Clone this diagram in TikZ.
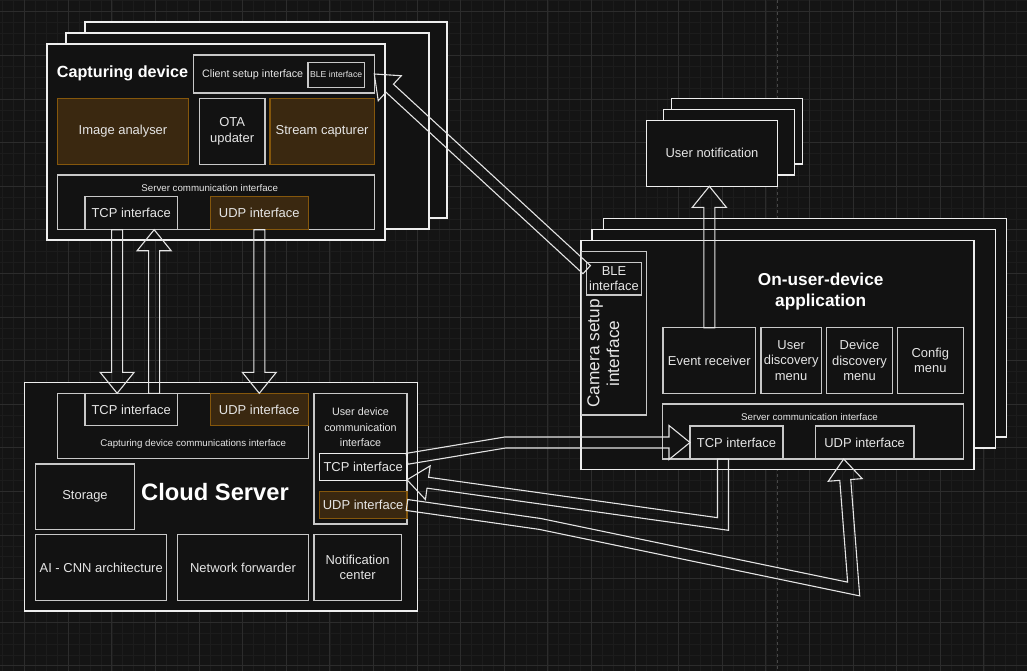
\documentclass[tikz,border=0pt]{standalone}
\usepackage{fontspec}
\setmainfont{Liberation Sans}
\usetikzlibrary{calc}

\definecolor{bgc}{HTML}{141414}
\definecolor{boxfill}{HTML}{121212}
\definecolor{framec}{HTML}{EEEEEE}
\definecolor{boxc}{HTML}{C8C8C8}
\definecolor{orfill}{HTML}{3A2810}
\definecolor{orline}{HTML}{85570C}
\definecolor{txt}{HTML}{E6E6E6}
\definecolor{arrowc}{HTML}{E4E4E4}
\definecolor{gridmin}{HTML}{1C1C1C}
\definecolor{gridmaj}{HTML}{2C2C2C}
\definecolor{pagec}{HTML}{474747}

\tikzset{
  shell/.style={draw=framec, fill=boxfill, line width=1.1bp, inner sep=0pt, outer sep=0pt, anchor=north west},
  block/.style={shell, draw=boxc, text=txt, align=center, font=\fontsize{13}{15.6}\selectfont},
  hotblock/.style={block, draw=orline, fill=orfill},
  caption/.style={text=txt, inner sep=0pt, align=center},
  flex/.style={draw=arrowc, line width=1.1bp, line join=miter},
}

% hollow arrow head: shaft side, head, tip, head, shaft side
\newcommand{\flexhead}[2]{-- ($(#2)!21bp!(#1)!5.5bp!90:(#2)$) -- ($(#2)!21bp!(#1)!17bp!90:(#2)$) -- (#2) -- ($(#2)!21bp!(#1)!17bp!-90:(#2)$) -- ($(#2)!21bp!(#1)!5.5bp!-90:(#2)$)}
% offset corners of the shaft at a bend
\newcommand{\flexcorner}[4]{%
  \coordinate (#1a) at ($(#2)!5.5bp!90:(#3)$);
  \coordinate (#1b) at ($(#3)!5.5bp!-90:(#2)$);
  \coordinate (#1c) at ($(#3)!5.5bp!90:(#4)$);
  \coordinate (#1d) at ($(#4)!5.5bp!-90:(#3)$);
  \coordinate (#1l) at (intersection of #1a--#1b and #1c--#1d);
  \coordinate (#1e) at ($(#2)!5.5bp!-90:(#3)$);
  \coordinate (#1f) at ($(#3)!5.5bp!90:(#2)$);
  \coordinate (#1g) at ($(#3)!5.5bp!-90:(#4)$);
  \coordinate (#1h) at ($(#4)!5.5bp!90:(#3)$);
  \coordinate (#1r) at (intersection of #1e--#1f and #1g--#1h);}

\begin{document}
\begin{tikzpicture}[x=1bp, y=-1bp]
\useasboundingbox[fill=bgc] (0,0) rectangle (1027,671);
\draw[gridmin, line width=0.6bp, shift={(24.6,11.7)}, step=10.9bp] (-30,670) grid (1010,-20);
\draw[gridmaj, line width=0.8bp, shift={(24.6,11.7)}, step=43.6bp] (-30,670) grid (1010,-20);
\draw[pagec, line width=0.8bp, dash pattern=on 3bp off 3bp] (777.7,0) -- (777.7,671);

% capturing device
\node[shell, minimum width=362bp, minimum height=196bp] (capback) at (85,22) {};
\node[shell, minimum width=363bp, minimum height=196bp] (capmid) at (66,33) {};
\node[shell, minimum width=338bp, minimum height=196bp] (capdev) at (47,44) {};
\node[caption, anchor=base west, text=white, font=\bfseries\fontsize{16.25}{19}\selectfont] (captitle) at (56.7,77.3) {Capturing device};
\node[block, minimum width=180.6bp, minimum height=38bp] (csetup) at (193.7,55) {};
\node[caption, font=\fontsize{10.8}{13}\selectfont] (csetuplbl) at (252.7,75) {Client setup interface};
\node[block, minimum width=56.3bp, minimum height=25bp, font=\fontsize{8.7}{10}\selectfont] (capBLE) at (308,62.3) {BLE interface};
\node[hotblock, minimum width=131.4bp, minimum height=66bp] (imganal) at (57.3,98.3) {Image analyser};
\node[block, minimum width=65.7bp, minimum height=66bp] (ota) at (199.3,98.3) {OTA\\updater};
\node[hotblock, minimum width=104.3bp, minimum height=66bp] (streamcap) at (270,98.3) {Stream capturer};
\node[block, minimum width=316.6bp, minimum height=54.7bp] (capsrv) at (57.7,175) {};
\node[caption, font=\fontsize{9.75}{11}\selectfont] (capsrvlbl) at (209.7,188) {Server communication interface};
\node[block, minimum width=92.3bp, minimum height=33bp] (capTCP) at (85,196.7) {TCP interface};
\node[hotblock, minimum width=98bp, minimum height=33bp] (capUDP) at (210.3,196.7) {UDP interface};

% cloud server
\node[shell, minimum width=392.6bp, minimum height=228.7bp] (cloud) at (24.7,382.3) {};
\node[block, minimum width=250.6bp, minimum height=65.4bp] (cldcap) at (57.7,393.3) {};
\node[caption, font=\fontsize{9.75}{11}\selectfont] (cldcaplbl) at (193.3,444) {Capturing device communications interface};
\node[block, minimum width=92.3bp, minimum height=32.4bp] (cldTCP) at (85,393.3) {TCP interface};
\node[hotblock, minimum width=98bp, minimum height=32.4bp] (cldUDP) at (210.3,393.3) {UDP interface};
\node[block, minimum width=93bp, minimum height=130.7bp] (cldusr) at (314,393.3) {};
\node[caption, font=\fontsize{10.8}{15.5}\selectfont] (cldusrlbl) at (360.5,427.5) {User device\\communication\\interface};
\node[block, draw=framec, minimum width=87.7bp, minimum height=27bp] (srvTCP) at (319.3,453.3) {TCP interface};
\node[hotblock, minimum width=87.7bp, minimum height=27.4bp] (srvUDP) at (319.3,491.3) {UDP interface};
\node[block, minimum width=98.6bp, minimum height=65.3bp] (storage) at (35.7,464) {Storage};
\node[caption, anchor=base, text=white, font=\bfseries\fontsize{23.8}{27}\selectfont] (cldtitle) at (215,500) {Cloud Server};
\node[block, minimum width=131bp, minimum height=65.6bp] (aicnn) at (35.7,534.7) {AI - CNN architecture};
\node[block, minimum width=131.4bp, minimum height=65.6bp] (netfwd) at (177.3,534.7) {Network forwarder};
\node[block, minimum width=87.3bp, minimum height=65.6bp] (notif) at (314,534.7) {Notification\\center};

% on-user-device application
\node[shell, minimum width=403.4bp, minimum height=218.7bp] (appback) at (603.3,218.3) {};
\node[shell, minimum width=403.7bp, minimum height=218.7bp] (appmid) at (592,229.3) {};
\node[shell, minimum width=393bp, minimum height=229bp] (app) at (581,240.3) {};
\node[block, minimum width=65.4bp, minimum height=163.7bp] (camsetup) at (581.3,251.3) {};
\node[block, minimum width=54.6bp, minimum height=32.7bp] (appBLE) at (586.7,262.3) {BLE\\interface};
\node[caption, rotate=90, font=\fontsize{17.3}{20}\selectfont] (camlbl) at (603.3,353.5) {Camera setup\\interface};
\node[caption, text=white, font=\bfseries\fontsize{17.3}{21}\selectfont] (apptitle) at (820.7,292) {On-user-device\\application};
\node[block, minimum width=92.7bp, minimum height=65.6bp] (evrx) at (663,327.7) {Event receiver};
\node[block, minimum width=60.3bp, minimum height=65.6bp] (usrdisc) at (761,327.7) {User\\discovery\\menu};
\node[block, minimum width=65.6bp, minimum height=65.6bp] (devdisc) at (826.7,327.7) {Device\\discovery\\menu};
\node[block, minimum width=66bp, minimum height=65.6bp] (cfgmenu) at (897.3,327.7) {Config\\menu};
\node[block, minimum width=300.6bp, minimum height=55bp] (appsrv) at (662.7,404) {};
\node[caption, font=\fontsize{9.75}{11}\selectfont] (appsrvlbl) at (809.5,417.3) {Server communication interface};
\node[block, minimum width=93bp, minimum height=33bp] (appTCP) at (690,426) {TCP interface};
\node[block, minimum width=98.7bp, minimum height=33bp] (appUDP) at (815.3,426) {UDP interface};

% user notification
\node[shell, minimum width=131bp, minimum height=65.3bp] (ntback) at (671.3,98.7) {};
\node[shell, minimum width=131bp, minimum height=65.7bp] (ntmid) at (663.3,109.3) {};
\node[block, draw=framec, minimum width=131.4bp, minimum height=66bp] (usrnotif) at (646.3,120.3) {User notification};

% capturing device <-> cloud server
\coordinate (tcpdn) at ($(capTCP.south)+(-14,0)$);
\coordinate (tcpdnend) at (tcpdn |- cldTCP.north);
\draw[flex] ($(tcpdn)!5.5bp!90:(tcpdnend)$) \flexhead{tcpdn}{tcpdnend} -- ($(tcpdn)!5.5bp!-90:(tcpdnend)$) -- cycle;
\coordinate (tcpup) at ($(cldTCP.north)+(23,0)$);
\coordinate (tcpupend) at (tcpup |- capTCP.south);
\draw[flex] ($(tcpup)!5.5bp!90:(tcpupend)$) \flexhead{tcpup}{tcpupend} -- ($(tcpup)!5.5bp!-90:(tcpupend)$) -- cycle;
\draw[flex] ($(capUDP.south)!5.5bp!90:(cldUDP.north)$) \flexhead{capUDP.south}{cldUDP.north} -- ($(capUDP.south)!5.5bp!-90:(cldUDP.north)$) -- cycle;

% BLE setup
\coordinate (bleout) at ($(appBLE.west)+(0,-9)$);
\draw[flex] ($(bleout)!5.5bp!90:(csetup.east)$) \flexhead{bleout}{csetup.east} -- ($(bleout)!5.5bp!-90:(csetup.east)$) -- cycle;

% events to user
\coordinate (notifin) at (evrx.north |- usrnotif.south);
\draw[flex] ($(evrx.north)!5.5bp!90:(notifin)$) \flexhead{evrx.north}{notifin} -- ($(evrx.north)!5.5bp!-90:(notifin)$) -- cycle;

% cloud server TCP -> app TCP
\coordinate (tcpout) at ($(srvTCP.east)+(0,-8)$);
\coordinate (tcpbend) at ($(appTCP.west)+(-185,0)$);
\flexcorner{ka}{tcpout}{tcpbend}{appTCP.west}
\draw[flex] ($(tcpout)!5.5bp!90:(tcpbend)$) -- (kal) \flexhead{tcpbend}{appTCP.west} -- (kar) -- ($(tcpout)!5.5bp!-90:(tcpbend)$) -- cycle;

% app TCP -> cloud server TCP
\coordinate (tcpback) at ($(appTCP.south)+(-13.5,0)$);
\coordinate (tcplow) at ($(tcpback)+(0,65)$);
\coordinate (tcpin) at ($(srvTCP.east)+(0,13)$);
\flexcorner{kb}{tcpback}{tcplow}{tcpin}
\draw[flex] ($(tcpback)!5.5bp!90:(tcplow)$) -- (kbl) \flexhead{tcplow}{tcpin} -- (kbr) -- ($(tcpback)!5.5bp!-90:(tcplow)$) -- cycle;

% cloud server UDP -> app UDP
\coordinate (udpbend) at ($(srvUDP.east)+(133,19)$);
\coordinate (udplow) at ($(appUDP.south)+(-11,130)$);
\coordinate (udpin) at ($(appUDP.south)+(-21,0)$);
\flexcorner{kc}{srvUDP.east}{udpbend}{udplow}
\flexcorner{kd}{udpbend}{udplow}{udpin}
\draw[flex] ($(srvUDP.east)!5.5bp!90:(udpbend)$) -- (kcl) -- (kdl) \flexhead{udplow}{udpin} -- (kdr) -- (kcr) -- ($(srvUDP.east)!5.5bp!-90:(udpbend)$) -- cycle;
\end{tikzpicture}
\end{document}
